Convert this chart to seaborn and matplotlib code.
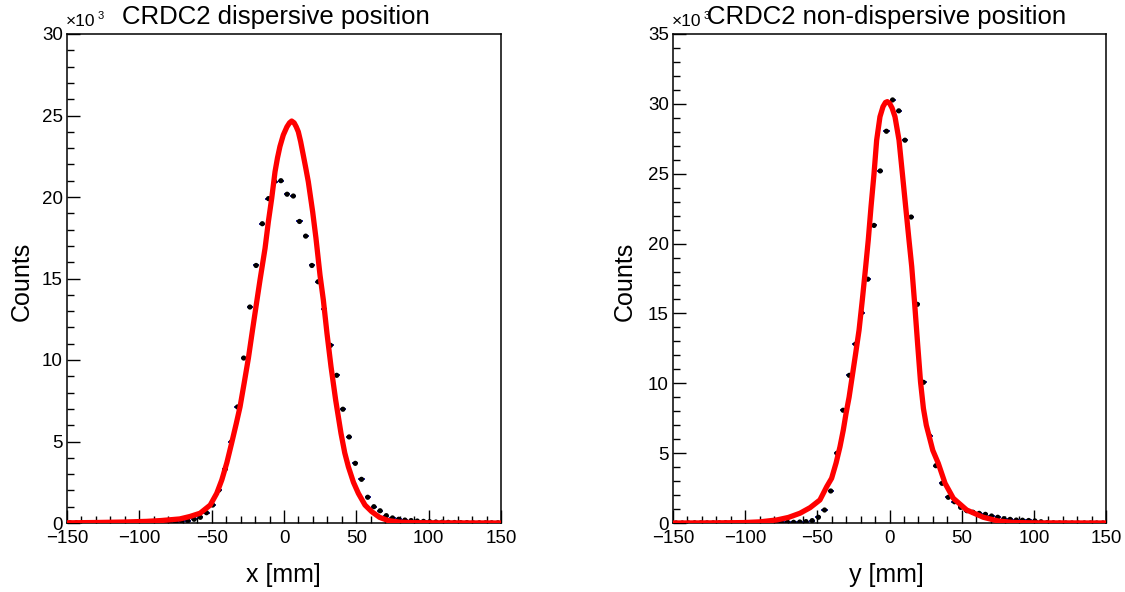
import numpy as np
import pandas as pd
import matplotlib
matplotlib.use("Agg")
import matplotlib.pyplot as plt
import seaborn as sns
from matplotlib.ticker import MultipleLocator

# ---------------- data (counts in units of 10^3) ----------------
BIN_EDGES = np.linspace(-150, 150, 71)          # 70 bins, -150..150 mm
BIN_CENTERS = 0.5 * (BIN_EDGES[:-1] + BIN_EDGES[1:])
BIN_WIDTH = BIN_EDGES[1] - BIN_EDGES[0]

x_counts = [
    0.01, 0.01, 0.01, 0.01, 0.01, 0.01, 0.02, 0.02, 0.02, 0.02,
    0.02, 0.03, 0.03, 0.04, 0.04, 0.05, 0.06, 0.08, 0.10, 0.14, 0.23,
    0.35, 0.63, 1.10, 2.02, 3.29, 4.97, 7.12, 10.12, 13.25, 15.80,
    18.36, 19.90, 20.95, 21.00, 20.17, 20.06, 18.50, 17.60, 15.80, 14.80,
    13.10, 10.90, 9.06, 6.98, 5.28, 3.66, 2.68, 1.58, 1.00, 0.75,
    0.45, 0.31, 0.23, 0.18, 0.15, 0.12, 0.10, 0.08, 0.06, 0.05,
    0.04, 0.03, 0.02, 0.02, 0.01, 0.01, 0.01, 0.01, 0.01,
]
y_counts = [
    0.00, 0.00, 0.00, 0.01, 0.01, 0.01, 0.01, 0.01, 0.02, 0.02,
    0.02, 0.02, 0.02, 0.03, 0.03, 0.03, 0.04, 0.04, 0.05, 0.05, 0.07,
    0.10, 0.17, 0.41, 0.93, 2.29, 4.99, 8.07, 10.57, 12.80, 15.05,
    17.45, 21.30, 25.20, 28.04, 30.28, 29.50, 27.40, 21.90, 15.65, 10.07,
    6.23, 4.10, 2.84, 1.84, 1.52, 1.12, 0.88, 0.77, 0.69, 0.62,
    0.50, 0.41, 0.31, 0.26, 0.21, 0.20, 0.18, 0.15, 0.09, 0.03,
    0.01, 0.00, 0.00, 0.00, 0.00, 0.00, 0.00, 0.00, 0.00,
]

# fit curves (mm, counts/1e3)
x_fit_pos = [-150, -130, -110, -95, -85, -72, -65, -58, -51, -46.5, -43, -39.5,
             -36.2, -33, -30.4, -27.5, -24.6, -22, -19.4, -16.6, -13.1, -10.8,
             -8.5, -6.2, -4.5, -2.8, -0.5, 2, 3.8, 5.3, 7, 8.5, 9.9, 11.5, 13.3,
             15, 16.8, 19.8, 22.1, 24.9, 27.2, 29.7, 32.5, 35.7, 39.4, 42, 44.5,
             48, 51.4, 56, 60.6, 66, 72, 80, 90, 110, 150]
x_fit_val = [0.01, 0.03, 0.06, 0.10, 0.15, 0.25, 0.40, 0.60, 1.10, 1.82, 2.64, 3.70,
             4.90, 6.10, 7.12, 8.60, 10.12, 11.70, 13.25, 14.90, 16.85, 18.49,
             19.92, 21.55, 22.40, 23.10, 23.80, 24.30, 24.55, 24.66, 24.55, 24.30,
             24.00, 23.40, 22.58, 21.80, 20.94, 19.10, 17.47, 15.20, 13.68, 11.64,
             9.59, 7.55, 5.50, 4.30, 3.45, 2.50, 1.82, 1.10, 0.70, 0.35, 0.15,
             0.05, 0.02, 0.01, 0.00]

y_fit_pos = [-150, -120, -101, -90, -78, -70, -62, -55, -48.2, -43.5, -40.1, -37,
             -34.3, -32, -30.1, -28, -26.2, -23.5, -21.1, -18.8, -16.5, -14.7,
             -12.8, -10.7, -8.9, -6.6, -4.5, -2.8, -1.5, 0, 1.8, 3.8, 6.6, 8.9,
             11.2, 13.5, 15.4, 17.5, 19.5, 21.5, 23.5, 25.5, 27.5, 30, 33.8,
             38.5, 44.2, 53.5, 65, 75, 85, 100, 150]
y_fit_val = [0.00, 0.01, 0.03, 0.08, 0.22, 0.40, 0.70, 1.10, 1.65, 2.60, 3.20, 4.30,
             5.46, 6.66, 7.85, 9.00, 10.24, 12.10, 13.80, 16.00, 18.35, 20.26,
             22.64, 25.03, 27.40, 29.08, 29.80, 30.10, 30.16, 30.05, 29.70, 29.08,
             27.40, 25.03, 22.64, 20.26, 18.35, 15.60, 12.80, 10.10, 8.20, 7.00,
             6.20, 5.20, 4.27, 2.84, 1.77, 0.93, 0.41, 0.15, 0.04, 0.01, 0.00]

titles = ["CRDC2 dispersive position", "CRDC2 non-dispersive position"]
xlabels = ["x [mm]", "y [mm]"]
ymax = [30, 35]

# ---------------- style ----------------
sns.set_theme(style="ticks")
plt.rcParams["font.family"] = ["Liberation Sans", "DejaVu Sans"]
plt.rcParams["axes.unicode_minus"] = True

W, H = 1125, 592
fig = plt.figure(figsize=(W / 100, H / 100), dpi=100)

axes_px = [(67, 501), (673, 1106)]
top_px, bot_px = 34, 523
title_cx = [276, 887]
xlab_cx = [283, 886]
ylab_cx = [22, 625]

counts_sets = [x_counts, y_counts]
fits = [(x_fit_pos, x_fit_val), (y_fit_pos, y_fit_val)]

for i in range(2):
    l, r = axes_px[i]
    ax = fig.add_axes([l / W, 1 - bot_px / H, (r - l) / W, (bot_px - top_px) / H])
    df = pd.DataFrame({"pos": BIN_CENTERS, "counts": counts_sets[i]})
    ax.errorbar(df["pos"], df["counts"], xerr=BIN_WIDTH / 2, fmt="none",
                ecolor="#1c1c9c", elinewidth=1.4, capsize=0, zorder=2)
    sns.scatterplot(data=df, x="pos", y="counts", color="black", s=14,
                    edgecolor="none", ax=ax, zorder=3, legend=False)
    fdf = pd.DataFrame({"pos": fits[i][0], "val": fits[i][1]})
    sns.lineplot(data=fdf, x="pos", y="val", color="red", lw=3.8, sort=False,
                 ax=ax, zorder=4, legend=False)

    ax.set_xlim(-150, 150)
    ax.set_ylim(0, ymax[i])
    ax.set_xlabel("")
    ax.set_ylabel("")
    ax.xaxis.set_major_locator(MultipleLocator(50))
    ax.xaxis.set_minor_locator(MultipleLocator(10))
    ax.yaxis.set_major_locator(MultipleLocator(5))
    ax.yaxis.set_minor_locator(MultipleLocator(1))
    ax.tick_params(which="both", direction="in", top=False, right=False,
                   colors="black", width=1.0)
    ax.tick_params(which="major", length=9.5, labelsize=13.5)
    ax.tick_params(axis="x", which="major", pad=5)
    ax.tick_params(axis="y", which="major", pad=3)
    ax.tick_params(which="minor", length=4.8)
    for s in ax.spines.values():
        s.set_visible(True)
        s.set_color("black")
        s.set_linewidth(1.1)

    fig.text(title_cx[i] / W, 1 - 17 / H, titles[i], ha="center", va="center",
             fontsize=18.5, color="black")
    fig.text(xlab_cx[i] / W, 1 - 575 / H, xlabels[i], ha="center", va="center",
             fontsize=18, color="black")
    fig.text(ylab_cx[i] / W, 1 - 281 / H, "Counts", ha="center", va="center",
             rotation=90, fontsize=18, color="black")
    # x10^3 multiplier
    fig.text((l - 1) / W, 1 - 26 / H, "\u00d710", ha="left", va="baseline",
             fontsize=12.5, color="black")
    fig.text((l + 31) / W, 1 - 19 / H, "3", ha="left", va="baseline",
             fontsize=8, color="black")

fig.savefig("out.png", dpi=100)
